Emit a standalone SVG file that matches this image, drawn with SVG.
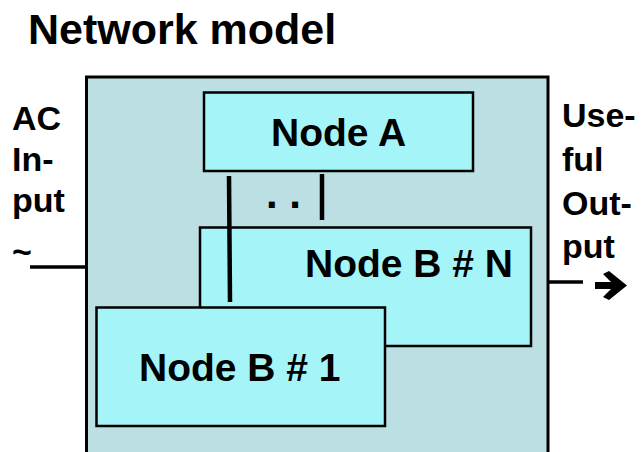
<svg xmlns="http://www.w3.org/2000/svg" width="641" height="452" viewBox="0 0 641 452">
<style>
text{font-family:"Liberation Sans",Arial,sans-serif;font-weight:bold;fill:#000}
.node{fill:#A5F5F8;stroke:#000;stroke-width:2.5}
.lbl{font-size:39px}
.side{font-size:34px}
.wire{stroke:#000;stroke-width:4.5;fill:none}
.io{stroke:#000;stroke-width:3.5;fill:none}
</style>
<rect width="641" height="452" fill="#fff"/>
<text x="28" y="44" style="font-size:43px">Network model</text>
<g id="network">
<rect x="86.5" y="77" width="461.5" height="390" fill="#BBDFE2" stroke="#000" stroke-width="3"/>
</g>
<g id="ac-input">
<text class="side" x="12" y="130">AC</text>
<text class="side" x="12" y="171">In-</text>
<text class="side" x="12" y="212">put</text>
<text class="side" x="12" y="263">~</text>
</g>
<g id="useful-output">
<text class="side" x="562" y="127">Use-</text>
<text class="side" x="562" y="171">ful</text>
<text class="side" x="562" y="215">Out-</text>
<text class="side" x="562" y="258">put</text>
<polygon points="595,282 611,282 603,274 609,271 627,285.5 609,300 603,297 611,289 595,289" fill="#000"/>
</g>
<g id="node-a">
<rect class="node" x="204" y="92.5" width="269" height="78.5"/>
<text class="lbl" x="271" y="146">Node A</text>
</g>
<g id="node-b-n">
<rect class="node" x="200" y="227.5" width="331" height="118.5"/>
<text class="lbl" x="305" y="277">Node B # N</text>
</g>
<g id="connectors">
<line class="io" x1="30" y1="267" x2="86" y2="267"/>
<line class="io" x1="548" y1="282" x2="583" y2="282"/>
<line class="wire" x1="229" y1="176" x2="230" y2="302"/>
<line class="wire" x1="322" y1="174" x2="322" y2="220"/>
<text x="266" y="208" style="font-size:42px">. .</text>
</g>
<g id="node-b-1">
<rect class="node" x="96.5" y="307.5" width="288.5" height="118.5"/>
<text class="lbl" x="139" y="381">Node B # 1</text>
</g>
</svg>
